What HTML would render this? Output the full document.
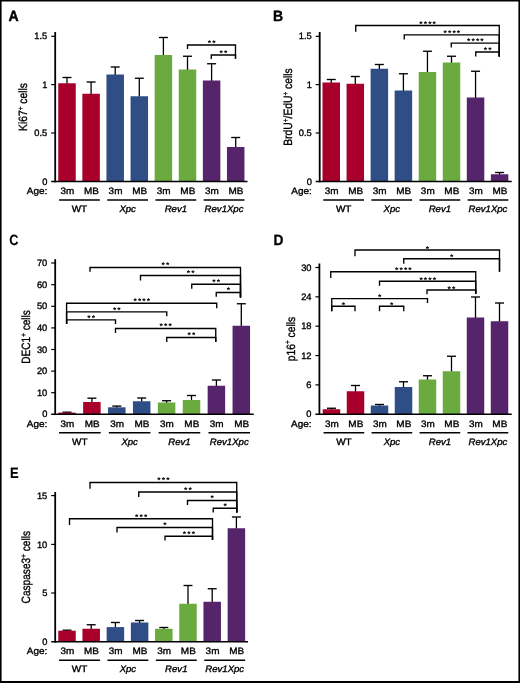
<!DOCTYPE html>
<html lang="en"><head><meta charset="utf-8"><title>Figure</title>
<style>
html,body{margin:0;padding:0;background:#fff;}
body{width:520px;height:683px;overflow:hidden;position:relative;}
svg{position:absolute;left:0;top:0;display:block;}
svg text{font-family:"Liberation Sans",sans-serif;fill:#000;stroke:#000;stroke-width:0.35px;text-rendering:geometricPrecision;}
</style></head><body>
<svg width="520" height="683" viewBox="0 0 520 683">
<rect x="0" y="0" width="520" height="683" fill="#fff"/>
<g style="filter:blur(0.3px)">
<g class="panel-A">
<text transform="translate(8.6 20.5) scale(0.95 1)" font-size="14.8" font-weight="bold" style="stroke-width:0.4px">A</text>
<line x1="67" y1="77.5" x2="67" y2="83.75" stroke="#000" stroke-width="1.3" stroke-linecap="butt"/>
<line x1="62.5" y1="77.5" x2="71.5" y2="77.5" stroke="#000" stroke-width="1.35" stroke-linecap="butt"/>
<rect x="58.25" y="83.25" width="17.5" height="98.25" fill="#a8002b"/>
<line x1="91.1" y1="82" x2="91.1" y2="94.25" stroke="#000" stroke-width="1.3" stroke-linecap="butt"/>
<line x1="86.6" y1="82" x2="95.6" y2="82" stroke="#000" stroke-width="1.35" stroke-linecap="butt"/>
<rect x="82.35" y="93.75" width="17.5" height="87.75" fill="#a8002b"/>
<line x1="115.2" y1="67" x2="115.2" y2="75" stroke="#000" stroke-width="1.3" stroke-linecap="butt"/>
<line x1="110.7" y1="67" x2="119.7" y2="67" stroke="#000" stroke-width="1.35" stroke-linecap="butt"/>
<rect x="106.45" y="74.5" width="17.5" height="107" fill="#2f4e86"/>
<line x1="139.3" y1="78.25" x2="139.3" y2="96.75" stroke="#000" stroke-width="1.3" stroke-linecap="butt"/>
<line x1="134.8" y1="78.25" x2="143.8" y2="78.25" stroke="#000" stroke-width="1.35" stroke-linecap="butt"/>
<rect x="130.55" y="96.25" width="17.5" height="85.25" fill="#2f4e86"/>
<line x1="163.4" y1="37.5" x2="163.4" y2="55.5" stroke="#000" stroke-width="1.3" stroke-linecap="butt"/>
<line x1="158.9" y1="37.5" x2="167.9" y2="37.5" stroke="#000" stroke-width="1.35" stroke-linecap="butt"/>
<rect x="154.65" y="55" width="17.5" height="126.5" fill="#6aaa3f"/>
<line x1="187.5" y1="56.25" x2="187.5" y2="70" stroke="#000" stroke-width="1.3" stroke-linecap="butt"/>
<line x1="183" y1="56.25" x2="192" y2="56.25" stroke="#000" stroke-width="1.35" stroke-linecap="butt"/>
<rect x="178.75" y="69.5" width="17.5" height="112" fill="#6aaa3f"/>
<line x1="211.6" y1="63.75" x2="211.6" y2="81" stroke="#000" stroke-width="1.3" stroke-linecap="butt"/>
<line x1="207.1" y1="63.75" x2="216.1" y2="63.75" stroke="#000" stroke-width="1.35" stroke-linecap="butt"/>
<rect x="202.85" y="80.5" width="17.5" height="101" fill="#55246a"/>
<line x1="235.7" y1="137.5" x2="235.7" y2="147.5" stroke="#000" stroke-width="1.3" stroke-linecap="butt"/>
<line x1="231.2" y1="137.5" x2="240.2" y2="137.5" stroke="#000" stroke-width="1.35" stroke-linecap="butt"/>
<rect x="226.95" y="147" width="17.5" height="34.5" fill="#55246a"/>
<line x1="55.2" y1="32" x2="55.2" y2="182.3" stroke="#000" stroke-width="1.8" stroke-linecap="butt"/>
<line x1="51.2" y1="181.5" x2="247.5" y2="181.5" stroke="#000" stroke-width="1.6" stroke-linecap="butt"/>
<line x1="51.2" y1="36.3" x2="55" y2="36.3" stroke="#000" stroke-width="1.2" stroke-linecap="butt"/>
<text x="47.3" y="39.4" text-anchor="end" font-size="9.3" >1.5</text>
<line x1="51.2" y1="84.6" x2="55" y2="84.6" stroke="#000" stroke-width="1.2" stroke-linecap="butt"/>
<text x="47.3" y="87.7" text-anchor="end" font-size="9.3" >1</text>
<line x1="51.2" y1="133" x2="55" y2="133" stroke="#000" stroke-width="1.2" stroke-linecap="butt"/>
<text x="47.3" y="136.1" text-anchor="end" font-size="9.3" >0.5</text>
<text x="47.3" y="184.6" text-anchor="end" font-size="9.3" >0</text>
<text transform="translate(27.4,107) rotate(-90) scale(0.86,1)" text-anchor="middle" font-size="12">Ki67<tspan dy="-4.3" font-size="7.5">+</tspan><tspan dy="4.3"> cells</tspan></text>
<text transform="translate(47.3 193.9) scale(1.07 1)" text-anchor="end" font-size="9.3" >Age:</text>
<text transform="translate(67.3 193.9) scale(1.07 1)" text-anchor="middle" font-size="9.3" >3m</text>
<text transform="translate(91.4 193.9) scale(1.07 1)" text-anchor="middle" font-size="9.3" >MB</text>
<text transform="translate(115.5 193.9) scale(1.07 1)" text-anchor="middle" font-size="9.3" >3m</text>
<text transform="translate(139.6 193.9) scale(1.07 1)" text-anchor="middle" font-size="9.3" >MB</text>
<text transform="translate(163.7 193.9) scale(1.07 1)" text-anchor="middle" font-size="9.3" >3m</text>
<text transform="translate(187.8 193.9) scale(1.07 1)" text-anchor="middle" font-size="9.3" >MB</text>
<text transform="translate(211.9 193.9) scale(1.07 1)" text-anchor="middle" font-size="9.3" >3m</text>
<text transform="translate(236 193.9) scale(1.07 1)" text-anchor="middle" font-size="9.3" >MB</text>
<line x1="59.05" y1="200" x2="99.85" y2="200" stroke="#000" stroke-width="1.45" stroke-linecap="butt"/>
<text transform="translate(79.45 212.1) scale(1.07 1)" text-anchor="middle" font-size="9.3" >WT</text>
<line x1="107.25" y1="200" x2="148.05" y2="200" stroke="#000" stroke-width="1.45" stroke-linecap="butt"/>
<text transform="translate(127.65 212.1) scale(1.03 1)" text-anchor="middle" font-size="9.3" font-style="italic" >Xpc</text>
<line x1="155.45" y1="200" x2="196.25" y2="200" stroke="#000" stroke-width="1.45" stroke-linecap="butt"/>
<text transform="translate(175.85 212.1) scale(1.03 1)" text-anchor="middle" font-size="9.3" font-style="italic" >Rev1</text>
<line x1="203.65" y1="200" x2="244.45" y2="200" stroke="#000" stroke-width="1.45" stroke-linecap="butt"/>
<text transform="translate(224.05 212.1) scale(1.03 1)" text-anchor="middle" font-size="9.3" font-style="italic" >Rev1Xpc</text>
<path d="M187.5 49V45H235.5V58.75" fill="none" stroke="#000" stroke-width="1.35" stroke-linejoin="miter"/>
<text x="207.72" y="45.9" font-size="8.5" font-weight="bold" letter-spacing="1.15" style="stroke:none">**</text>
<path d="M211.25 59V55H235.5V58.75" fill="none" stroke="#000" stroke-width="1.35" stroke-linejoin="miter"/>
<text x="219.59" y="55.9" font-size="8.5" font-weight="bold" letter-spacing="1.15" style="stroke:none">**</text>
</g>
<g class="panel-B">
<text transform="translate(273.1 20.5) scale(0.95 1)" font-size="14.8" font-weight="bold" style="stroke-width:0.4px">B</text>
<line x1="331.25" y1="79.5" x2="331.25" y2="83" stroke="#000" stroke-width="1.3" stroke-linecap="butt"/>
<line x1="326.75" y1="79.5" x2="335.75" y2="79.5" stroke="#000" stroke-width="1.35" stroke-linecap="butt"/>
<rect x="322.5" y="82.5" width="17.5" height="99" fill="#a8002b"/>
<line x1="355.3" y1="76.5" x2="355.3" y2="84.25" stroke="#000" stroke-width="1.3" stroke-linecap="butt"/>
<line x1="350.8" y1="76.5" x2="359.8" y2="76.5" stroke="#000" stroke-width="1.35" stroke-linecap="butt"/>
<rect x="346.55" y="83.75" width="17.5" height="97.75" fill="#a8002b"/>
<line x1="379.35" y1="64.5" x2="379.35" y2="69.25" stroke="#000" stroke-width="1.3" stroke-linecap="butt"/>
<line x1="374.85" y1="64.5" x2="383.85" y2="64.5" stroke="#000" stroke-width="1.35" stroke-linecap="butt"/>
<rect x="370.6" y="68.75" width="17.5" height="112.75" fill="#2f4e86"/>
<line x1="403.4" y1="73.75" x2="403.4" y2="91" stroke="#000" stroke-width="1.3" stroke-linecap="butt"/>
<line x1="398.9" y1="73.75" x2="407.9" y2="73.75" stroke="#000" stroke-width="1.35" stroke-linecap="butt"/>
<rect x="394.65" y="90.5" width="17.5" height="91" fill="#2f4e86"/>
<line x1="427.45" y1="51.25" x2="427.45" y2="72.5" stroke="#000" stroke-width="1.3" stroke-linecap="butt"/>
<line x1="422.95" y1="51.25" x2="431.95" y2="51.25" stroke="#000" stroke-width="1.35" stroke-linecap="butt"/>
<rect x="418.7" y="72" width="17.5" height="109.5" fill="#6aaa3f"/>
<line x1="451.5" y1="56.25" x2="451.5" y2="63" stroke="#000" stroke-width="1.3" stroke-linecap="butt"/>
<line x1="447" y1="56.25" x2="456" y2="56.25" stroke="#000" stroke-width="1.35" stroke-linecap="butt"/>
<rect x="442.75" y="62.5" width="17.5" height="119" fill="#6aaa3f"/>
<line x1="475.55" y1="71.25" x2="475.55" y2="98" stroke="#000" stroke-width="1.3" stroke-linecap="butt"/>
<line x1="471.05" y1="71.25" x2="480.05" y2="71.25" stroke="#000" stroke-width="1.35" stroke-linecap="butt"/>
<rect x="466.8" y="97.5" width="17.5" height="84" fill="#55246a"/>
<line x1="499.6" y1="172.5" x2="499.6" y2="174.75" stroke="#000" stroke-width="1.3" stroke-linecap="butt"/>
<line x1="495.1" y1="172.5" x2="504.1" y2="172.5" stroke="#000" stroke-width="1.35" stroke-linecap="butt"/>
<rect x="490.85" y="174.25" width="17.5" height="7.25" fill="#55246a"/>
<line x1="319.7" y1="32" x2="319.7" y2="182.3" stroke="#000" stroke-width="1.8" stroke-linecap="butt"/>
<line x1="315.7" y1="181.5" x2="511.75" y2="181.5" stroke="#000" stroke-width="1.6" stroke-linecap="butt"/>
<line x1="315.7" y1="36.3" x2="319.5" y2="36.3" stroke="#000" stroke-width="1.2" stroke-linecap="butt"/>
<text x="311.8" y="39.4" text-anchor="end" font-size="9.3" >1.5</text>
<line x1="315.7" y1="84.6" x2="319.5" y2="84.6" stroke="#000" stroke-width="1.2" stroke-linecap="butt"/>
<text x="311.8" y="87.7" text-anchor="end" font-size="9.3" >1</text>
<line x1="315.7" y1="133" x2="319.5" y2="133" stroke="#000" stroke-width="1.2" stroke-linecap="butt"/>
<text x="311.8" y="136.1" text-anchor="end" font-size="9.3" >0.5</text>
<text x="311.8" y="184.6" text-anchor="end" font-size="9.3" >0</text>
<text transform="translate(292,107) rotate(-90) scale(0.86,1)" text-anchor="middle" font-size="12">BrdU<tspan dy="-4.3" font-size="7.5">+</tspan><tspan dy="4.3">/EdU</tspan><tspan dy="-4.3" font-size="7.5">+</tspan><tspan dy="4.3"> cells</tspan></text>
<text transform="translate(311.8 193.9) scale(1.07 1)" text-anchor="end" font-size="9.3" >Age:</text>
<text transform="translate(331.55 193.9) scale(1.07 1)" text-anchor="middle" font-size="9.3" >3m</text>
<text transform="translate(355.6 193.9) scale(1.07 1)" text-anchor="middle" font-size="9.3" >MB</text>
<text transform="translate(379.65 193.9) scale(1.07 1)" text-anchor="middle" font-size="9.3" >3m</text>
<text transform="translate(403.7 193.9) scale(1.07 1)" text-anchor="middle" font-size="9.3" >MB</text>
<text transform="translate(427.75 193.9) scale(1.07 1)" text-anchor="middle" font-size="9.3" >3m</text>
<text transform="translate(451.8 193.9) scale(1.07 1)" text-anchor="middle" font-size="9.3" >MB</text>
<text transform="translate(475.85 193.9) scale(1.07 1)" text-anchor="middle" font-size="9.3" >3m</text>
<text transform="translate(499.9 193.9) scale(1.07 1)" text-anchor="middle" font-size="9.3" >MB</text>
<line x1="323.3" y1="200" x2="364.05" y2="200" stroke="#000" stroke-width="1.45" stroke-linecap="butt"/>
<text transform="translate(343.68 212.1) scale(1.07 1)" text-anchor="middle" font-size="9.3" >WT</text>
<line x1="371.4" y1="200" x2="412.15" y2="200" stroke="#000" stroke-width="1.45" stroke-linecap="butt"/>
<text transform="translate(391.77 212.1) scale(1.03 1)" text-anchor="middle" font-size="9.3" font-style="italic" >Xpc</text>
<line x1="419.5" y1="200" x2="460.25" y2="200" stroke="#000" stroke-width="1.45" stroke-linecap="butt"/>
<text transform="translate(439.88 212.1) scale(1.03 1)" text-anchor="middle" font-size="9.3" font-style="italic" >Rev1</text>
<line x1="467.6" y1="200" x2="508.35" y2="200" stroke="#000" stroke-width="1.45" stroke-linecap="butt"/>
<text transform="translate(487.98 212.1) scale(1.03 1)" text-anchor="middle" font-size="9.3" font-style="italic" >Rev1Xpc</text>
<path d="M355.75 31.75V25.5H499.25V56.5" fill="none" stroke="#000" stroke-width="1.35" stroke-linejoin="miter"/>
<text x="419.26" y="26.8" font-size="8.5" font-weight="bold" letter-spacing="1.15" style="stroke:none">****</text>
<path d="M404.25 39.5V34.8H499.25V56.5" fill="none" stroke="#000" stroke-width="1.35" stroke-linejoin="miter"/>
<text x="443.51" y="36.1" font-size="8.5" font-weight="bold" letter-spacing="1.15" style="stroke:none">****</text>
<path d="M451.25 47.5V43.1H499.25V56.5" fill="none" stroke="#000" stroke-width="1.35" stroke-linejoin="miter"/>
<text x="467.01" y="44.4" font-size="8.5" font-weight="bold" letter-spacing="1.15" style="stroke:none">****</text>
<path d="M475.75 56.5V52H499.25V56.5" fill="none" stroke="#000" stroke-width="1.35" stroke-linejoin="miter"/>
<text x="483.72" y="53.3" font-size="8.5" font-weight="bold" letter-spacing="1.15" style="stroke:none">**</text>
</g>
<g class="panel-C">
<text transform="translate(9.2 244.8) scale(0.86 1)" font-size="14.8" font-weight="bold" style="stroke-width:0.15px">C</text>
<line x1="67" y1="412.2" x2="67" y2="413.1" stroke="#000" stroke-width="1.3" stroke-linecap="butt"/>
<line x1="62.5" y1="412.2" x2="71.5" y2="412.2" stroke="#000" stroke-width="1.35" stroke-linecap="butt"/>
<rect x="58.25" y="412.6" width="17.5" height="1.65" fill="#a8002b"/>
<line x1="91.9" y1="398.2" x2="91.9" y2="402.5" stroke="#000" stroke-width="1.3" stroke-linecap="butt"/>
<line x1="87.4" y1="398.2" x2="96.4" y2="398.2" stroke="#000" stroke-width="1.35" stroke-linecap="butt"/>
<rect x="83.15" y="402" width="17.5" height="12.25" fill="#a8002b"/>
<line x1="116.8" y1="406.1" x2="116.8" y2="407.8" stroke="#000" stroke-width="1.3" stroke-linecap="butt"/>
<line x1="112.3" y1="406.1" x2="121.3" y2="406.1" stroke="#000" stroke-width="1.35" stroke-linecap="butt"/>
<rect x="108.05" y="407.3" width="17.5" height="6.95" fill="#2f4e86"/>
<line x1="141.7" y1="398" x2="141.7" y2="401.75" stroke="#000" stroke-width="1.3" stroke-linecap="butt"/>
<line x1="137.2" y1="398" x2="146.2" y2="398" stroke="#000" stroke-width="1.35" stroke-linecap="butt"/>
<rect x="132.95" y="401.25" width="17.5" height="13" fill="#2f4e86"/>
<line x1="166.6" y1="400.75" x2="166.6" y2="403" stroke="#000" stroke-width="1.3" stroke-linecap="butt"/>
<line x1="162.1" y1="400.75" x2="171.1" y2="400.75" stroke="#000" stroke-width="1.35" stroke-linecap="butt"/>
<rect x="157.85" y="402.5" width="17.5" height="11.75" fill="#6aaa3f"/>
<line x1="191.5" y1="395.5" x2="191.5" y2="400.5" stroke="#000" stroke-width="1.3" stroke-linecap="butt"/>
<line x1="187" y1="395.5" x2="196" y2="395.5" stroke="#000" stroke-width="1.35" stroke-linecap="butt"/>
<rect x="182.75" y="400" width="17.5" height="14.25" fill="#6aaa3f"/>
<line x1="216.4" y1="380" x2="216.4" y2="386.25" stroke="#000" stroke-width="1.3" stroke-linecap="butt"/>
<line x1="211.9" y1="380" x2="220.9" y2="380" stroke="#000" stroke-width="1.35" stroke-linecap="butt"/>
<rect x="207.65" y="385.75" width="17.5" height="28.5" fill="#55246a"/>
<line x1="241.3" y1="303.75" x2="241.3" y2="326.25" stroke="#000" stroke-width="1.3" stroke-linecap="butt"/>
<line x1="236.8" y1="303.75" x2="245.8" y2="303.75" stroke="#000" stroke-width="1.35" stroke-linecap="butt"/>
<rect x="232.55" y="325.75" width="17.5" height="88.5" fill="#55246a"/>
<line x1="55.2" y1="259.2" x2="55.2" y2="415.05" stroke="#000" stroke-width="1.8" stroke-linecap="butt"/>
<line x1="51.2" y1="414.25" x2="253.75" y2="414.25" stroke="#000" stroke-width="1.6" stroke-linecap="butt"/>
<line x1="51.2" y1="263" x2="55" y2="263" stroke="#000" stroke-width="1.2" stroke-linecap="butt"/>
<text x="47.3" y="266.1" text-anchor="end" font-size="9.3" >70</text>
<line x1="51.2" y1="284.7" x2="55" y2="284.7" stroke="#000" stroke-width="1.2" stroke-linecap="butt"/>
<text x="47.3" y="287.8" text-anchor="end" font-size="9.3" >60</text>
<line x1="51.2" y1="306.3" x2="55" y2="306.3" stroke="#000" stroke-width="1.2" stroke-linecap="butt"/>
<text x="47.3" y="309.4" text-anchor="end" font-size="9.3" >50</text>
<line x1="51.2" y1="327.9" x2="55" y2="327.9" stroke="#000" stroke-width="1.2" stroke-linecap="butt"/>
<text x="47.3" y="331" text-anchor="end" font-size="9.3" >40</text>
<line x1="51.2" y1="349.5" x2="55" y2="349.5" stroke="#000" stroke-width="1.2" stroke-linecap="butt"/>
<text x="47.3" y="352.6" text-anchor="end" font-size="9.3" >30</text>
<line x1="51.2" y1="371.1" x2="55" y2="371.1" stroke="#000" stroke-width="1.2" stroke-linecap="butt"/>
<text x="47.3" y="374.2" text-anchor="end" font-size="9.3" >20</text>
<line x1="51.2" y1="392.7" x2="55" y2="392.7" stroke="#000" stroke-width="1.2" stroke-linecap="butt"/>
<text x="47.3" y="395.8" text-anchor="end" font-size="9.3" >10</text>
<text x="47.3" y="417.35" text-anchor="end" font-size="9.3" >0</text>
<text transform="translate(30.2,336.9) rotate(-90) scale(0.84,1)" text-anchor="middle" font-size="12">DEC1<tspan dy="-4.3" font-size="7.5">+</tspan><tspan dy="4.3"> cells</tspan></text>
<text transform="translate(47.3 426.65) scale(1.07 1)" text-anchor="end" font-size="9.3" >Age:</text>
<text transform="translate(67.3 426.65) scale(1.07 1)" text-anchor="middle" font-size="9.3" >3m</text>
<text transform="translate(92.2 426.65) scale(1.07 1)" text-anchor="middle" font-size="9.3" >MB</text>
<text transform="translate(117.1 426.65) scale(1.07 1)" text-anchor="middle" font-size="9.3" >3m</text>
<text transform="translate(142 426.65) scale(1.07 1)" text-anchor="middle" font-size="9.3" >MB</text>
<text transform="translate(166.9 426.65) scale(1.07 1)" text-anchor="middle" font-size="9.3" >3m</text>
<text transform="translate(191.8 426.65) scale(1.07 1)" text-anchor="middle" font-size="9.3" >MB</text>
<text transform="translate(216.7 426.65) scale(1.07 1)" text-anchor="middle" font-size="9.3" >3m</text>
<text transform="translate(241.6 426.65) scale(1.07 1)" text-anchor="middle" font-size="9.3" >MB</text>
<line x1="59.05" y1="432.75" x2="100.65" y2="432.75" stroke="#000" stroke-width="1.45" stroke-linecap="butt"/>
<text transform="translate(79.85 444.85) scale(1.07 1)" text-anchor="middle" font-size="9.3" >WT</text>
<line x1="108.85" y1="432.75" x2="150.45" y2="432.75" stroke="#000" stroke-width="1.45" stroke-linecap="butt"/>
<text transform="translate(129.65 444.85) scale(1.03 1)" text-anchor="middle" font-size="9.3" font-style="italic" >Xpc</text>
<line x1="158.65" y1="432.75" x2="200.25" y2="432.75" stroke="#000" stroke-width="1.45" stroke-linecap="butt"/>
<text transform="translate(179.45 444.85) scale(1.03 1)" text-anchor="middle" font-size="9.3" font-style="italic" >Rev1</text>
<line x1="208.45" y1="432.75" x2="250.05" y2="432.75" stroke="#000" stroke-width="1.45" stroke-linecap="butt"/>
<text transform="translate(229.25 444.85) scale(1.03 1)" text-anchor="middle" font-size="9.3" font-style="italic" >Rev1Xpc</text>
<path d="M90 271.75V267.5H240.5V297.5" fill="none" stroke="#000" stroke-width="1.35" stroke-linejoin="miter"/>
<text x="161.47" y="268.4" font-size="8.5" font-weight="bold" letter-spacing="1.15" style="stroke:none">**</text>
<path d="M140.5 280.5V275.5H240.5V297.5" fill="none" stroke="#000" stroke-width="1.35" stroke-linejoin="miter"/>
<text x="186.72" y="276.4" font-size="8.5" font-weight="bold" letter-spacing="1.15" style="stroke:none">**</text>
<path d="M191.75 288.75V284.25H240.5V297.5" fill="none" stroke="#000" stroke-width="1.35" stroke-linejoin="miter"/>
<text x="212.34" y="285.15" font-size="8.5" font-weight="bold" letter-spacing="1.15" style="stroke:none">**</text>
<path d="M216.25 296.75V292.5H240.5V297.5" fill="none" stroke="#000" stroke-width="1.35" stroke-linejoin="miter"/>
<text x="226.82" y="293.4" font-size="8.5" font-weight="bold" letter-spacing="1.15" style="stroke:none">*</text>
<path d="M66.6 324V303.2H216.75V308.3" fill="none" stroke="#000" stroke-width="1.35" stroke-linejoin="miter"/>
<text x="133.44" y="304.1" font-size="8.5" font-weight="bold" letter-spacing="1.15" style="stroke:none">****</text>
<path d="M66.6 324V311.8H166.75V316.25" fill="none" stroke="#000" stroke-width="1.35" stroke-linejoin="miter"/>
<text x="112.89" y="312.7" font-size="8.5" font-weight="bold" letter-spacing="1.15" style="stroke:none">**</text>
<path d="M66.6 324V319.8H115.5V324" fill="none" stroke="#000" stroke-width="1.35" stroke-linejoin="miter"/>
<text x="87.27" y="320.7" font-size="8.5" font-weight="bold" letter-spacing="1.15" style="stroke:none">**</text>
<path d="M115.5 333V328.5H215.75V342" fill="none" stroke="#000" stroke-width="1.35" stroke-linejoin="miter"/>
<text x="159.62" y="329.4" font-size="8.5" font-weight="bold" letter-spacing="1.15" style="stroke:none">***</text>
<path d="M166.75 342V337.5H215.75V342" fill="none" stroke="#000" stroke-width="1.35" stroke-linejoin="miter"/>
<text x="187.47" y="338.4" font-size="8.5" font-weight="bold" letter-spacing="1.15" style="stroke:none">**</text>
</g>
<g class="panel-D">
<text transform="translate(273.4 245.4) scale(0.93 1)" font-size="14.8" font-weight="bold" style="stroke-width:0.3px">D</text>
<line x1="331.5" y1="408.25" x2="331.5" y2="409.75" stroke="#000" stroke-width="1.3" stroke-linecap="butt"/>
<line x1="327" y1="408.25" x2="336" y2="408.25" stroke="#000" stroke-width="1.35" stroke-linecap="butt"/>
<rect x="322.75" y="409.25" width="17.5" height="5" fill="#a8002b"/>
<line x1="355.5" y1="385.5" x2="355.5" y2="391.75" stroke="#000" stroke-width="1.3" stroke-linecap="butt"/>
<line x1="351" y1="385.5" x2="360" y2="385.5" stroke="#000" stroke-width="1.35" stroke-linecap="butt"/>
<rect x="346.75" y="391.25" width="17.5" height="23" fill="#a8002b"/>
<line x1="379.5" y1="404.5" x2="379.5" y2="406" stroke="#000" stroke-width="1.3" stroke-linecap="butt"/>
<line x1="375" y1="404.5" x2="384" y2="404.5" stroke="#000" stroke-width="1.35" stroke-linecap="butt"/>
<rect x="370.75" y="405.5" width="17.5" height="8.75" fill="#2f4e86"/>
<line x1="403.5" y1="381.75" x2="403.5" y2="387.5" stroke="#000" stroke-width="1.3" stroke-linecap="butt"/>
<line x1="399" y1="381.75" x2="408" y2="381.75" stroke="#000" stroke-width="1.35" stroke-linecap="butt"/>
<rect x="394.75" y="387" width="17.5" height="27.25" fill="#2f4e86"/>
<line x1="427.5" y1="375.75" x2="427.5" y2="380" stroke="#000" stroke-width="1.3" stroke-linecap="butt"/>
<line x1="423" y1="375.75" x2="432" y2="375.75" stroke="#000" stroke-width="1.35" stroke-linecap="butt"/>
<rect x="418.75" y="379.5" width="17.5" height="34.75" fill="#6aaa3f"/>
<line x1="451.5" y1="356.25" x2="451.5" y2="371.75" stroke="#000" stroke-width="1.3" stroke-linecap="butt"/>
<line x1="447" y1="356.25" x2="456" y2="356.25" stroke="#000" stroke-width="1.35" stroke-linecap="butt"/>
<rect x="442.75" y="371.25" width="17.5" height="43" fill="#6aaa3f"/>
<line x1="475.5" y1="297" x2="475.5" y2="318" stroke="#000" stroke-width="1.3" stroke-linecap="butt"/>
<line x1="471" y1="297" x2="480" y2="297" stroke="#000" stroke-width="1.35" stroke-linecap="butt"/>
<rect x="466.75" y="317.5" width="17.5" height="96.75" fill="#55246a"/>
<line x1="499.5" y1="303" x2="499.5" y2="321.75" stroke="#000" stroke-width="1.3" stroke-linecap="butt"/>
<line x1="495" y1="303" x2="504" y2="303" stroke="#000" stroke-width="1.35" stroke-linecap="butt"/>
<rect x="490.75" y="321.25" width="17.5" height="93" fill="#55246a"/>
<line x1="319.4" y1="263.5" x2="319.4" y2="415.05" stroke="#000" stroke-width="1.8" stroke-linecap="butt"/>
<line x1="315.4" y1="414.25" x2="511.75" y2="414.25" stroke="#000" stroke-width="1.6" stroke-linecap="butt"/>
<line x1="315.4" y1="267.5" x2="319.2" y2="267.5" stroke="#000" stroke-width="1.2" stroke-linecap="butt"/>
<text x="311.5" y="270.6" text-anchor="end" font-size="9.3" >30</text>
<line x1="315.4" y1="296.85" x2="319.2" y2="296.85" stroke="#000" stroke-width="1.2" stroke-linecap="butt"/>
<text x="311.5" y="299.95" text-anchor="end" font-size="9.3" >24</text>
<line x1="315.4" y1="326.2" x2="319.2" y2="326.2" stroke="#000" stroke-width="1.2" stroke-linecap="butt"/>
<text x="311.5" y="329.3" text-anchor="end" font-size="9.3" >18</text>
<line x1="315.4" y1="355.55" x2="319.2" y2="355.55" stroke="#000" stroke-width="1.2" stroke-linecap="butt"/>
<text x="311.5" y="358.65" text-anchor="end" font-size="9.3" >12</text>
<line x1="315.4" y1="384.9" x2="319.2" y2="384.9" stroke="#000" stroke-width="1.2" stroke-linecap="butt"/>
<text x="311.5" y="388" text-anchor="end" font-size="9.3" >6</text>
<text x="311.5" y="417.35" text-anchor="end" font-size="9.3" >0</text>
<text transform="translate(294.6,339) rotate(-90) scale(0.86,1)" text-anchor="middle" font-size="12">p16<tspan dy="-4.3" font-size="7.5">+</tspan><tspan dy="4.3"> cells</tspan></text>
<text transform="translate(311.5 426.65) scale(1.07 1)" text-anchor="end" font-size="9.3" >Age:</text>
<text transform="translate(331.8 426.65) scale(1.07 1)" text-anchor="middle" font-size="9.3" >3m</text>
<text transform="translate(355.8 426.65) scale(1.07 1)" text-anchor="middle" font-size="9.3" >MB</text>
<text transform="translate(379.8 426.65) scale(1.07 1)" text-anchor="middle" font-size="9.3" >3m</text>
<text transform="translate(403.8 426.65) scale(1.07 1)" text-anchor="middle" font-size="9.3" >MB</text>
<text transform="translate(427.8 426.65) scale(1.07 1)" text-anchor="middle" font-size="9.3" >3m</text>
<text transform="translate(451.8 426.65) scale(1.07 1)" text-anchor="middle" font-size="9.3" >MB</text>
<text transform="translate(475.8 426.65) scale(1.07 1)" text-anchor="middle" font-size="9.3" >3m</text>
<text transform="translate(499.8 426.65) scale(1.07 1)" text-anchor="middle" font-size="9.3" >MB</text>
<line x1="323.55" y1="432.75" x2="364.25" y2="432.75" stroke="#000" stroke-width="1.45" stroke-linecap="butt"/>
<text transform="translate(343.9 444.85) scale(1.07 1)" text-anchor="middle" font-size="9.3" >WT</text>
<line x1="371.55" y1="432.75" x2="412.25" y2="432.75" stroke="#000" stroke-width="1.45" stroke-linecap="butt"/>
<text transform="translate(391.9 444.85) scale(1.03 1)" text-anchor="middle" font-size="9.3" font-style="italic" >Xpc</text>
<line x1="419.55" y1="432.75" x2="460.25" y2="432.75" stroke="#000" stroke-width="1.45" stroke-linecap="butt"/>
<text transform="translate(439.9 444.85) scale(1.03 1)" text-anchor="middle" font-size="9.3" font-style="italic" >Rev1</text>
<line x1="467.55" y1="432.75" x2="508.25" y2="432.75" stroke="#000" stroke-width="1.45" stroke-linecap="butt"/>
<text transform="translate(487.9 444.85) scale(1.03 1)" text-anchor="middle" font-size="9.3" font-style="italic" >Rev1Xpc</text>
<path d="M355 256.25V250H499.5V271.75" fill="none" stroke="#000" stroke-width="1.35" stroke-linejoin="miter"/>
<text x="425.7" y="251.7" font-size="8.5" font-weight="bold" letter-spacing="1.15" style="stroke:none">*</text>
<path d="M403.75 263.75V258.75H499.5V271.75" fill="none" stroke="#000" stroke-width="1.35" stroke-linejoin="miter"/>
<text x="450.07" y="260.45" font-size="8.5" font-weight="bold" letter-spacing="1.15" style="stroke:none">*</text>
<path d="M330.75 278V271.75H475.75V293.75" fill="none" stroke="#000" stroke-width="1.35" stroke-linejoin="miter"/>
<text x="395.01" y="273.45" font-size="8.5" font-weight="bold" letter-spacing="1.15" style="stroke:none">****</text>
<path d="M379.5 285.75V281.25H475.75V293.75" fill="none" stroke="#000" stroke-width="1.35" stroke-linejoin="miter"/>
<text x="419.39" y="282.95" font-size="8.5" font-weight="bold" letter-spacing="1.15" style="stroke:none">****</text>
<path d="M427 294.25V290H475.75V293.75" fill="none" stroke="#000" stroke-width="1.35" stroke-linejoin="miter"/>
<text x="447.59" y="291.7" font-size="8.5" font-weight="bold" letter-spacing="1.15" style="stroke:none">**</text>
<path d="M331.75 311.25V298.6H427.5V303" fill="none" stroke="#000" stroke-width="1.35" stroke-linejoin="miter"/>
<text x="378.07" y="300.3" font-size="8.5" font-weight="bold" letter-spacing="1.15" style="stroke:none">*</text>
<path d="M331.75 311.25V306.25H355V311.25" fill="none" stroke="#000" stroke-width="1.35" stroke-linejoin="miter"/>
<text x="341.82" y="307.95" font-size="8.5" font-weight="bold" letter-spacing="1.15" style="stroke:none">*</text>
<path d="M379.5 311.25V306.25H403.75V311.25" fill="none" stroke="#000" stroke-width="1.35" stroke-linejoin="miter"/>
<text x="390.07" y="307.95" font-size="8.5" font-weight="bold" letter-spacing="1.15" style="stroke:none">*</text>
</g>
<g class="panel-E">
<text transform="translate(10.1 477.5) scale(0.88 1)" font-size="14.8" font-weight="bold" style="stroke-width:0.15px">E</text>
<line x1="67" y1="630.2" x2="67" y2="631.2" stroke="#000" stroke-width="1.3" stroke-linecap="butt"/>
<line x1="62.5" y1="630.2" x2="71.5" y2="630.2" stroke="#000" stroke-width="1.35" stroke-linecap="butt"/>
<rect x="58.25" y="630.7" width="17.5" height="11.05" fill="#a8002b"/>
<line x1="91.2" y1="624.75" x2="91.2" y2="629.25" stroke="#000" stroke-width="1.3" stroke-linecap="butt"/>
<line x1="86.7" y1="624.75" x2="95.7" y2="624.75" stroke="#000" stroke-width="1.35" stroke-linecap="butt"/>
<rect x="82.45" y="628.75" width="17.5" height="13" fill="#a8002b"/>
<line x1="115.4" y1="622.5" x2="115.4" y2="627.6" stroke="#000" stroke-width="1.3" stroke-linecap="butt"/>
<line x1="110.9" y1="622.5" x2="119.9" y2="622.5" stroke="#000" stroke-width="1.35" stroke-linecap="butt"/>
<rect x="106.65" y="627.1" width="17.5" height="14.65" fill="#2f4e86"/>
<line x1="139.6" y1="620.5" x2="139.6" y2="623" stroke="#000" stroke-width="1.3" stroke-linecap="butt"/>
<line x1="135.1" y1="620.5" x2="144.1" y2="620.5" stroke="#000" stroke-width="1.35" stroke-linecap="butt"/>
<rect x="130.85" y="622.5" width="17.5" height="19.25" fill="#2f4e86"/>
<line x1="163.8" y1="627.5" x2="163.8" y2="629.25" stroke="#000" stroke-width="1.3" stroke-linecap="butt"/>
<line x1="159.3" y1="627.5" x2="168.3" y2="627.5" stroke="#000" stroke-width="1.35" stroke-linecap="butt"/>
<rect x="155.05" y="628.75" width="17.5" height="13" fill="#6aaa3f"/>
<line x1="188" y1="585.5" x2="188" y2="604.25" stroke="#000" stroke-width="1.3" stroke-linecap="butt"/>
<line x1="183.5" y1="585.5" x2="192.5" y2="585.5" stroke="#000" stroke-width="1.35" stroke-linecap="butt"/>
<rect x="179.25" y="603.75" width="17.5" height="38" fill="#6aaa3f"/>
<line x1="212.2" y1="588.75" x2="212.2" y2="602.25" stroke="#000" stroke-width="1.3" stroke-linecap="butt"/>
<line x1="207.7" y1="588.75" x2="216.7" y2="588.75" stroke="#000" stroke-width="1.35" stroke-linecap="butt"/>
<rect x="203.45" y="601.75" width="17.5" height="40" fill="#55246a"/>
<line x1="236.4" y1="517" x2="236.4" y2="528.75" stroke="#000" stroke-width="1.3" stroke-linecap="butt"/>
<line x1="231.9" y1="517" x2="240.9" y2="517" stroke="#000" stroke-width="1.35" stroke-linecap="butt"/>
<rect x="227.65" y="528.25" width="17.5" height="113.5" fill="#55246a"/>
<line x1="55.2" y1="492" x2="55.2" y2="642.55" stroke="#000" stroke-width="1.8" stroke-linecap="butt"/>
<line x1="51.2" y1="641.75" x2="248" y2="641.75" stroke="#000" stroke-width="1.6" stroke-linecap="butt"/>
<line x1="51.2" y1="495.6" x2="55" y2="495.6" stroke="#000" stroke-width="1.2" stroke-linecap="butt"/>
<text x="47.3" y="498.7" text-anchor="end" font-size="9.3" >15</text>
<line x1="51.2" y1="544.4" x2="55" y2="544.4" stroke="#000" stroke-width="1.2" stroke-linecap="butt"/>
<text x="47.3" y="547.5" text-anchor="end" font-size="9.3" >10</text>
<line x1="51.2" y1="593" x2="55" y2="593" stroke="#000" stroke-width="1.2" stroke-linecap="butt"/>
<text x="47.3" y="596.1" text-anchor="end" font-size="9.3" >5</text>
<text x="47.3" y="644.85" text-anchor="end" font-size="9.3" >0</text>
<text transform="translate(30.3,567.2) rotate(-90) scale(0.845,1)" text-anchor="middle" font-size="12">Caspase3<tspan dy="-4.3" font-size="7.5">+</tspan><tspan dy="4.3"> cells</tspan></text>
<text transform="translate(47.3 654.15) scale(1.07 1)" text-anchor="end" font-size="9.3" >Age:</text>
<text transform="translate(67.3 654.15) scale(1.07 1)" text-anchor="middle" font-size="9.3" >3m</text>
<text transform="translate(91.5 654.15) scale(1.07 1)" text-anchor="middle" font-size="9.3" >MB</text>
<text transform="translate(115.7 654.15) scale(1.07 1)" text-anchor="middle" font-size="9.3" >3m</text>
<text transform="translate(139.9 654.15) scale(1.07 1)" text-anchor="middle" font-size="9.3" >MB</text>
<text transform="translate(164.1 654.15) scale(1.07 1)" text-anchor="middle" font-size="9.3" >3m</text>
<text transform="translate(188.3 654.15) scale(1.07 1)" text-anchor="middle" font-size="9.3" >MB</text>
<text transform="translate(212.5 654.15) scale(1.07 1)" text-anchor="middle" font-size="9.3" >3m</text>
<text transform="translate(236.7 654.15) scale(1.07 1)" text-anchor="middle" font-size="9.3" >MB</text>
<line x1="59.05" y1="660.25" x2="99.95" y2="660.25" stroke="#000" stroke-width="1.45" stroke-linecap="butt"/>
<text transform="translate(79.5 672.35) scale(1.07 1)" text-anchor="middle" font-size="9.3" >WT</text>
<line x1="107.45" y1="660.25" x2="148.35" y2="660.25" stroke="#000" stroke-width="1.45" stroke-linecap="butt"/>
<text transform="translate(127.9 672.35) scale(1.03 1)" text-anchor="middle" font-size="9.3" font-style="italic" >Xpc</text>
<line x1="155.85" y1="660.25" x2="196.75" y2="660.25" stroke="#000" stroke-width="1.45" stroke-linecap="butt"/>
<text transform="translate(176.3 672.35) scale(1.03 1)" text-anchor="middle" font-size="9.3" font-style="italic" >Rev1</text>
<line x1="204.25" y1="660.25" x2="245.15" y2="660.25" stroke="#000" stroke-width="1.45" stroke-linecap="butt"/>
<text transform="translate(224.7 672.35) scale(1.03 1)" text-anchor="middle" font-size="9.3" font-style="italic" >Rev1Xpc</text>
<path d="M90 488.75V482.5H236.75V512.5" fill="none" stroke="#000" stroke-width="1.35" stroke-linejoin="miter"/>
<text x="157.37" y="483.4" font-size="8.5" font-weight="bold" letter-spacing="1.15" style="stroke:none">***</text>
<path d="M138.75 497V492H236.75V512.5" fill="none" stroke="#000" stroke-width="1.35" stroke-linejoin="miter"/>
<text x="183.97" y="492.9" font-size="8.5" font-weight="bold" letter-spacing="1.15" style="stroke:none">**</text>
<path d="M187.5 505V500.5H236.75V512.5" fill="none" stroke="#000" stroke-width="1.35" stroke-linejoin="miter"/>
<text x="210.57" y="501.4" font-size="8.5" font-weight="bold" letter-spacing="1.15" style="stroke:none">*</text>
<path d="M213.25 512.5V508.25H236.75V512.5" fill="none" stroke="#000" stroke-width="1.35" stroke-linejoin="miter"/>
<text x="223.45" y="509.15" font-size="8.5" font-weight="bold" letter-spacing="1.15" style="stroke:none">*</text>
<path d="M69.5 525V518.75H212.5V540" fill="none" stroke="#000" stroke-width="1.35" stroke-linejoin="miter"/>
<text x="134.99" y="519.65" font-size="8.5" font-weight="bold" letter-spacing="1.15" style="stroke:none">***</text>
<path d="M117 532.5V527.5H212.5V540" fill="none" stroke="#000" stroke-width="1.35" stroke-linejoin="miter"/>
<text x="163.2" y="528.4" font-size="8.5" font-weight="bold" letter-spacing="1.15" style="stroke:none">*</text>
<path d="M165 540.5V536.25H212.5V540" fill="none" stroke="#000" stroke-width="1.35" stroke-linejoin="miter"/>
<text x="182.74" y="537.15" font-size="8.5" font-weight="bold" letter-spacing="1.15" style="stroke:none">***</text>
</g>
</g>
<path d="M0 0H520V683H0Z M1.6 1.5V681H518.4V1.5Z" fill="#000" fill-rule="evenodd"/>
</svg>
</body></html>
